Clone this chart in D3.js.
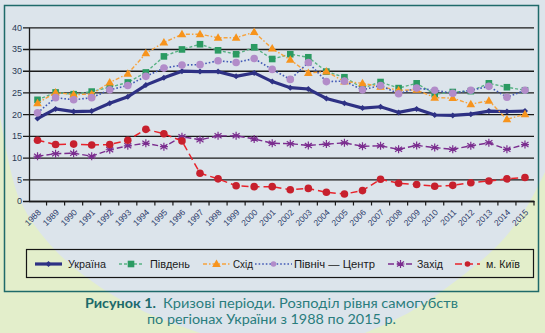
<!DOCTYPE html>
<html><head><meta charset="utf-8">
<script src="https://cdn.jsdelivr.net/npm/d3@7"></script>
<style>html,body{margin:0;padding:0;background:#dce4eb;}svg{display:block;}</style>
</head><body>
<svg id="c" width="545" height="333"></svg>
<script>
const years = [1988,1989,1990,1991,1992,1993,1994,1995,1996,1997,1998,1999,2000,2001,2002,2003,2004,2005,2006,2007,2008,2009,2010,2011,2012,2013,2014,2015];
const ukraine = [19.0,21.2,20.6,20.7,22.5,24.0,26.7,28.4,29.9,29.8,29.8,28.7,29.5,27.5,26.1,25.8,23.6,22.5,21.4,21.7,20.4,21.2,19.8,19.7,20.0,20.7,20.6,20.7];
const south = [23.3,25.0,24.6,25.2,26.2,27.3,29.6,33.3,34.9,36.1,34.7,33.8,35.4,32.7,33.8,33.1,29.8,28.5,26.0,27.4,26.0,27.1,24.6,25.1,25.3,27.1,26.2,25.5];
const east = [22.5,25.0,24.5,24.6,27.3,29.3,34.0,36.5,38.4,38.4,37.6,37.6,38.9,35.1,32.5,29.5,29.8,27.5,27.1,26.3,25.5,25.6,23.8,23.7,22.3,23.1,18.8,20.0];
const northCenter = [20.3,23.8,23.3,23.8,25.6,26.6,28.7,30.6,31.3,31.4,32.3,31.9,32.8,30.3,28.0,31.9,27.5,27.6,25.6,26.6,24.7,26.0,25.5,24.8,25.5,26.4,23.9,25.5];
const west = [10.3,10.9,11.0,10.3,11.8,12.7,13.3,12.5,14.8,14.1,15.0,15.0,14.3,13.3,13.2,12.8,13.1,13.4,12.6,12.7,11.9,12.8,12.3,11.9,12.7,13.4,11.9,13.0];
const kyiv = [14.0,13.0,13.1,12.9,13.0,14.0,16.5,15.5,13.8,6.4,5.1,3.5,3.3,3.3,2.6,2.9,2.0,1.6,2.4,5.0,4.1,3.8,3.4,3.6,4.2,4.6,5.1,5.4];
const yTicks = [0,5,10,15,20,25,30,35,40];
const seriesNames = ["Україна","Південь","Схід","Північ — Центр","Захід","м. Київ"];

const svg = d3.select("#c");
// background
svg.append("rect").attr("width",545).attr("height",333).attr("fill","#e3eecb");
const leftEdge = [[0,115],[20,200],[55,250],[100,287],[145,312],[200,333]];
const rightEdge = [[365,333],[410,312],[457,280],[500,243],[525,210],[545,172]];
const smooth = d3.line().curve(d3.curveCatmullRom);
const pathStr = "M0,0L545,0L545,172" + smooth(rightEdge.slice().reverse()).replace(/^M[^CL]*/,"") +
  "L200,333" + smooth(leftEdge.slice().reverse()).replace(/^M[^CL]*/,"") + "Z";
svg.append("path").attr("d",pathStr).attr("fill","#dce4eb");

// frame
svg.append("rect").attr("x",4.5).attr("y",5.5).attr("width",534).attr("height",286)
  .attr("fill","none").attr("stroke","#1f6a6a").attr("stroke-width",1.5);

const x = d3.scaleBand().domain(years).range([28.5,534]);
const y = d3.scaleLinear().domain([0,40]).range([201,27.3]);
const cx = d => x(d) + x.bandwidth()/2;

// gridlines + y labels
const yAxis = d3.axisLeft(y).tickValues(yTicks).tickSize(-(534-29)).tickSizeOuter(0).tickPadding(7);
const ga = svg.append("g").attr("transform","translate(29,0)").call(yAxis);
ga.select(".domain").attr("stroke","#1a1a1a").attr("stroke-width",1.3);
ga.selectAll(".tick line").attr("stroke","#1a1a1a").attr("stroke-width",1.3).attr("x1",-6);
ga.selectAll(".tick text").attr("font-family","Liberation Sans, Arial, sans-serif").attr("font-size",9).attr("fill","#2b3a55");

// x axis
const xAxis = d3.axisBottom(x).tickSize(0).tickFormat(d=>d);
const gx = svg.append("g").attr("transform","translate(0,201)").call(xAxis);
gx.select(".domain").attr("stroke","#1a1a1a").attr("stroke-width",1.3);
gx.selectAll(".tick text").attr("font-family","Liberation Sans, Arial, sans-serif").attr("font-size",8.5)
  .attr("fill","#2b3a6a").attr("text-anchor","end").attr("dy",0).attr("y",0)
  .attr("transform","translate(4,12) rotate(-45)");
// boundary ticks
svg.append("g").selectAll("line").data(years).join("line")
  .attr("x1",d=>x(d)+x.bandwidth()).attr("x2",d=>x(d)+x.bandwidth())
  .attr("y1",201).attr("y2",205.5).attr("stroke","#1a1a1a").attr("stroke-width",1.2);

const line = d3.line().x((d,i)=>cx(years[i])).y(d=>y(d));

function drawMarker(g, type, color, px, py, s){
  if(type==="diamond"){
    g.append("path").attr("d",`M${px},${py-3}L${px+3},${py}L${px},${py+3}L${px-3},${py}Z`).attr("fill",color);
  } else if(type==="square"){
    g.append("rect").attr("x",px-3.3).attr("y",py-3.3).attr("width",6.6).attr("height",6.6).attr("fill",color);
  } else if(type==="triangle"){
    g.append("path").attr("d",`M${px},${py-4.5}L${px+4.3},${py+3}L${px-4.3},${py+3}Z`).attr("fill",color);
  } else if(type==="circle"){
    g.append("circle").attr("cx",px).attr("cy",py).attr("r",s||3.8).attr("fill",color);
  } else if(type==="star"){
    g.append("path").attr("d",`M${px},${py-4}L${px},${py+4}M${px-3.5},${py-2.5}L${px+3.5},${py+2.5}M${px-3.5},${py+2.5}L${px+3.5},${py-2.5}M${px-4},${py}L${px+4},${py}`)
      .attr("stroke",color).attr("stroke-width",1.2).attr("fill","none");
  }
}

const series = [
  {name:seriesNames[0], data:ukraine, line:"#2e3184", marker:"#2e3184", type:"diamond", dash:null, w:3.2},
  {name:seriesNames[1], data:south, line:"#58b284", marker:"#2b9a62", type:"square", dash:"3,2", w:1.4},
  {name:seriesNames[2], data:east, line:"#f6a33e", marker:"#f7941d", type:"triangle", dash:"4,2,1.5,2", w:1.4},
  {name:seriesNames[3], data:northCenter, line:"#4259b6", marker:"#b28cc9", type:"circle", dash:"1.6,2", w:1.6},
  {name:seriesNames[4], data:west, line:"#7b2d8f", marker:"#7b2d8f", type:"star", dash:"6,3", w:1.4},
  {name:seriesNames[5], data:kyiv, line:"#e8232b", marker:"#c7202d", type:"circle", dash:"7,4", w:1.5}
];

series.forEach(s=>{
  const g = svg.append("g");
  g.append("path").attr("d",line(s.data)).attr("fill","none").attr("stroke",s.line)
    .attr("stroke-width",s.w).attr("stroke-dasharray",s.dash);
  s.data.forEach((v,i)=>drawMarker(g,s.type,s.marker,cx(years[i]),y(v), s.type==="circle"?3.8:null));
});

// legend
svg.append("rect").attr("x",26.5).attr("y",249.5).attr("width",507).attr("height",28)
  .attr("fill","none").attr("stroke","#151515").attr("stroke-width",1.2);
const leg = [
  {x1:35,x2:62,tx:68,tw:38},
  {x1:119,x2:143,tx:150,tw:40},
  {x1:203,x2:230,tx:233,tw:20},
  {x1:255,x2:292,tx:294,tw:81},
  {x1:388,x2:413,tx:417,tw:26},
  {x1:455,x2:480,tx:486,tw:34}
];
series.forEach((s,i)=>{
  const L = leg[i]; const g = svg.append("g"); const ly=264;
  g.append("line").attr("x1",L.x1).attr("x2",L.x2).attr("y1",ly).attr("y2",ly)
    .attr("stroke",s.line).attr("stroke-width",s.w).attr("stroke-dasharray",s.dash);
  drawMarker(g,s.type,s.marker,(L.x1+L.x2)/2,ly, s.type==="circle"?2.8:null);
  g.append("text").attr("x",L.tx).attr("y",268).text(s.name)
    .attr("font-family","Liberation Sans, Arial, sans-serif").attr("font-size",11.5).attr("fill","#1a1a1a")
    .attr("textLength",L.tw).attr("lengthAdjust","spacingAndGlyphs");
});

// caption
const cap = svg.append("g").attr("font-family","Lato, 'Open Sans', sans-serif").attr("font-size",13.5);
cap.append("text").attr("x",85).attr("y",308).attr("font-weight","bold").attr("fill","#1c6a6a")
  .text("Рисунок 1.").attr("textLength",71).attr("lengthAdjust","spacingAndGlyphs");
cap.append("text").attr("x",163).attr("y",308).attr("fill","#2a7d7d")
  .text("Кризові періоди. Розподіл рівня самогубств").attr("textLength",295).attr("lengthAdjust","spacingAndGlyphs");
cap.append("text").attr("x",147).attr("y",324).attr("fill","#2a7d7d")
  .text("по регіонах України з 1988 по 2015 р.").attr("textLength",249).attr("lengthAdjust","spacingAndGlyphs");
</script>
</body></html>
